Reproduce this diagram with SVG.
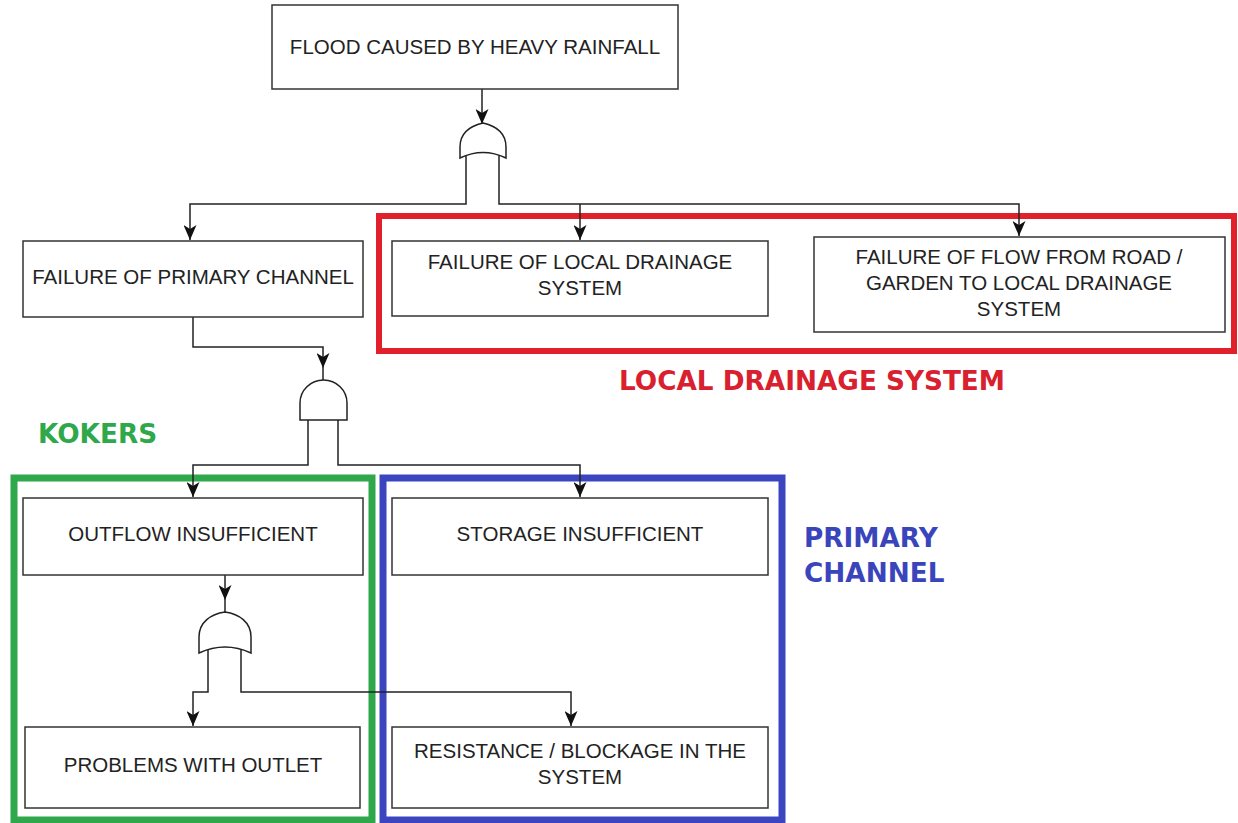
<svg xmlns="http://www.w3.org/2000/svg" width="1238" height="823" viewBox="0 0 1238 823">
<style>
.box{fill:#fff;stroke:#333;stroke-width:1.5}
.t{font-family:"Liberation Sans",Arial,sans-serif;font-size:20.5px;fill:#222;text-anchor:middle}
.gate{fill:#fff;stroke:#222;stroke-width:1.5}
.c{fill:none;stroke:#222;stroke-width:1.5}
.lbl{font-family:"DejaVu Sans",Verdana,sans-serif;font-weight:bold;font-size:26.3px}
</style>
<defs>
<marker id="arr" markerUnits="userSpaceOnUse" markerWidth="15" markerHeight="13" viewBox="0 0 15 13" refX="15" refY="6.5" orient="auto">
<path d="M0,0 L15,6.5 L0,13 L4,6.5 Z" fill="#111"/>
</marker>
</defs>
<rect x="0" y="0" width="1238" height="823" fill="#fff"/>
<g id="groups">
<rect x="379" y="216" width="855" height="135" fill="none" stroke="#e0212b" stroke-width="6"/>
<rect x="14" y="478" width="358" height="342" fill="none" stroke="#2ea84a" stroke-width="7"/>
<rect x="383" y="478" width="399" height="342" fill="none" stroke="#3b45c0" stroke-width="7"/>
<text class="lbl" x="812" y="390" fill="#d9202e" text-anchor="middle">LOCAL DRAINAGE SYSTEM</text>
<text class="lbl" x="38" y="443" fill="#2ea84a">KOKERS</text>
<text class="lbl" x="804" y="547" fill="#3a45bb">PRIMARY</text>
<text class="lbl" x="804" y="582" fill="#3a45bb">CHANNEL</text>
</g>
<g id="connectors">
<path class="c" d="M482,89 V124" marker-end="url(#arr)"/>
<path class="c" d="M466,155 V204 H190 V240" marker-end="url(#arr)"/>
<path class="c" d="M499,155 V204 H1019 V236" marker-end="url(#arr)"/>
<path class="c" d="M580,204 V240" marker-end="url(#arr)"/>
<path class="c" d="M193,317 V347 H323 V368" marker-end="url(#arr)"/>
<path class="c" d="M323,368 V380"/>
<path class="c" d="M308,420 V465 H193 V497" marker-end="url(#arr)"/>
<path class="c" d="M338,420 V465 H580 V497" marker-end="url(#arr)"/>
<path class="c" d="M225,575 V600" marker-end="url(#arr)"/>
<path class="c" d="M225,600 V612"/>
<path class="c" d="M208,650 V692 H193 V726" marker-end="url(#arr)"/>
<path class="c" d="M241,650 V692 H571 V726" marker-end="url(#arr)"/>
</g>
<g id="gate1">
<path class="gate" d="M460,158 V147 C460,133 470,126 483,123 C496,126 506,133 506,147 V158 Q483,147 460,158 Z"/>
</g>
<g id="gate2">
<path class="gate" d="M300,420 V403 A23.5,23 0 0 1 347,403 V420 Z"/>
</g>
<g id="gate3">
<path class="gate" d="M199,653 V637 C199,622 211,614 225,612 C239,614 251,622 251,637 V653 Q225,641 199,653 Z"/>
</g>
<g id="n-top">
<rect class="box" x="272" y="5" width="406" height="84"/>
<text class="t" x="475" y="54">FLOOD CAUSED BY HEAVY RAINFALL</text>
</g>
<g id="n-primary">
<rect class="box" x="23" y="241" width="340" height="76"/>
<text class="t" x="193" y="284">FAILURE OF PRIMARY CHANNEL</text>
</g>
<g id="n-local">
<rect class="box" x="392" y="241" width="376" height="75"/>
<text class="t" x="580" y="269">FAILURE OF LOCAL DRAINAGE</text>
<text class="t" x="580" y="295">SYSTEM</text>
</g>
<g id="n-flow">
<rect class="box" x="814" y="237" width="411" height="95"/>
<text class="t" x="1019" y="264">FAILURE OF FLOW FROM ROAD /</text>
<text class="t" x="1019" y="290">GARDEN TO LOCAL DRAINAGE</text>
<text class="t" x="1019" y="316">SYSTEM</text>
</g>
<g id="n-outflow">
<rect class="box" x="23" y="498" width="340" height="77"/>
<text class="t" x="193" y="541">OUTFLOW INSUFFICIENT</text>
</g>
<g id="n-storage">
<rect class="box" x="392" y="498" width="376" height="77"/>
<text class="t" x="580" y="541">STORAGE INSUFFICIENT</text>
</g>
<g id="n-outlet">
<rect class="box" x="25" y="727" width="335" height="81"/>
<text class="t" x="193" y="772">PROBLEMS WITH OUTLET</text>
</g>
<g id="n-resistance">
<rect class="box" x="392" y="727" width="376" height="81"/>
<text class="t" x="580" y="758">RESISTANCE / BLOCKAGE IN THE</text>
<text class="t" x="580" y="784">SYSTEM</text>
</g>
</svg>
